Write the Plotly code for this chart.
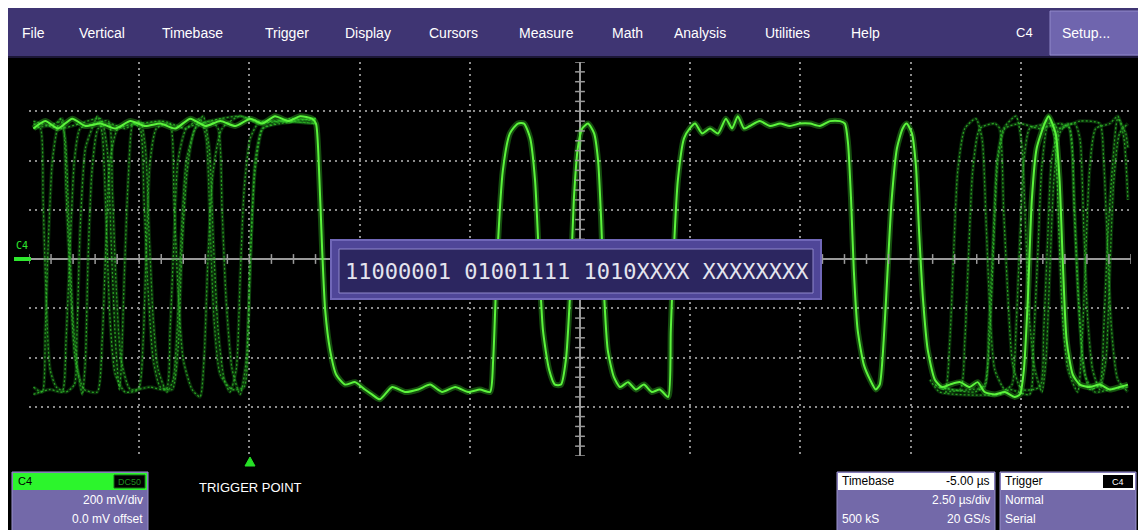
import numpy as np
import plotly.graph_objects as go

# ---------------- data (time in µs, voltage in V) ----------------
MAIN_T = [-12.40,-12.13,-11.84,-11.52,-11.22,-10.88,-10.54,-10.20,-9.86,-9.52,-9.18,-8.84,-8.50,-8.16,-7.82,-7.48,-7.21,-6.92,-6.62,-6.35,-6.08,-5.99,
          -5.92,-5.85,-5.78,-5.67,-5.53,-5.33,
          -5.10,-4.88,-4.72,-4.54,-4.26,-3.97,-3.67,-3.40,-3.13,-2.83,-2.54,-2.27,-2.04,
          -1.97,-1.88,-1.75,-1.59,-1.41,-1.27,
          -1.13,-1.02,-0.93,-0.84,-0.70,-0.57,-0.43,
          -0.32,-0.23,-0.14,-0.05,0.05,0.18,
          0.32,0.41,0.48,0.54,0.63,0.77,
          0.91,1.09,1.27,1.45,1.63,1.81,2.00,
          2.06,2.13,2.22,2.36,2.49,
          2.61,2.77,2.95,3.13,3.31,3.45,3.58,3.72,3.85,4.08,4.31,4.54,4.76,4.99,5.22,5.44,5.67,5.90,6.01,
          6.08,6.15,6.21,6.30,6.44,6.58,6.71,6.80,
          6.89,6.98,7.07,7.19,7.32,7.41,
          7.53,7.62,7.69,7.78,7.89,8.05,
          8.21,8.39,8.62,8.84,9.02,9.18,9.41,9.64,9.86,9.98,
          10.07,10.16,10.25,10.36,10.54,10.63,
          10.79,10.88,10.95,11.04,11.18,
          11.34,11.56,11.79,12.02,12.24,12.43]
MAIN_V = [0.53,0.56,0.53,0.57,0.54,0.55,0.53,0.56,0.54,0.55,0.53,0.57,0.54,0.56,0.54,0.57,0.55,0.58,0.56,0.58,0.57,0.55,
          0.36,0.04,-0.21,-0.37,-0.47,-0.51,
          -0.50,-0.53,-0.55,-0.57,-0.52,-0.54,-0.53,-0.51,-0.54,-0.52,-0.54,-0.53,-0.54,
          -0.41,0.00,0.36,0.51,0.55,0.55,
          0.49,0.32,0.00,-0.29,-0.45,-0.51,-0.51,
          -0.41,-0.16,0.24,0.45,0.53,0.55,
          0.51,0.40,0.16,-0.12,-0.37,-0.48,
          -0.52,-0.50,-0.53,-0.51,-0.54,-0.53,-0.56,
          -0.29,0.04,0.32,0.49,0.53,
          0.55,0.51,0.53,0.51,0.57,0.53,0.58,0.53,0.54,0.56,0.54,0.55,0.54,0.55,0.55,0.54,0.56,0.56,0.55,
          0.47,0.24,-0.04,-0.29,-0.43,-0.49,-0.53,-0.51,
          -0.33,-0.04,0.24,0.45,0.53,0.55,
          0.51,0.38,0.12,-0.16,-0.37,-0.49,
          -0.52,-0.51,-0.50,-0.52,-0.50,-0.54,-0.55,-0.54,-0.56,-0.55,
          -0.45,-0.16,0.24,0.45,0.55,0.58,
          0.51,0.32,0.00,-0.33,-0.47,
          -0.51,-0.52,-0.51,-0.53,-0.52,-0.51]

# persistence (older acquisitions) – left part of the screen
L1_T = [-12.40,-12.24,-12.18,-12.11,-12.02,-11.88,-11.66,-11.47,-11.41,-11.34,-11.22,-11.07,-10.95,-10.84,-10.75,-10.66,-10.54,-10.32,-10.02,-9.91,-9.84,-9.75,-9.61,-9.30,-8.96,-8.62,-8.48,-8.39,-8.30,-8.16,-7.89,-7.62,-7.53,-7.46,-7.37,-7.21,-6.92,-6.58,-5.99]
L1_V = [0.55,0.53,0.24,-0.16,-0.45,-0.52,-0.54,-0.51,-0.29,0.12,0.45,0.53,0.58,0.51,0.16,-0.25,-0.47,-0.54,-0.53,-0.33,0.04,0.40,0.53,0.55,0.53,0.57,0.49,0.12,-0.25,-0.47,-0.53,-0.52,-0.29,0.08,0.40,0.53,0.55,0.57,0.56]
L2_T = [-12.40,-12.20,-12.13,-12.06,-11.97,-11.86,-11.79,-11.68,-11.59,-11.50,-11.38,-11.29,-11.22,-11.16,-11.07,-10.93,-10.66,-10.32,-9.98,-9.86,-9.77,-9.68,-9.57,-9.37,-9.23,-9.14,-9.05,-8.93,-8.73,-8.55,-8.41,-8.32,-8.21,-8.07,-7.94,-7.80,-7.71,-7.62,-7.48,-7.30,-6.92,-5.99]
L2_V = [-0.52,-0.54,-0.29,0.08,0.40,0.53,0.57,0.49,0.12,-0.25,-0.47,-0.55,-0.41,0.00,0.36,0.53,0.55,0.53,0.56,0.45,0.08,-0.25,-0.45,-0.54,-0.49,-0.29,0.08,0.40,0.53,0.58,0.45,0.08,-0.29,-0.49,-0.54,-0.45,-0.08,0.28,0.49,0.55,0.56,0.55]
L3_T = [-12.40,-11.79,-11.34,-10.88,-10.73,-10.63,-10.54,-10.45,-10.41,-10.34,-10.25,-10.14,-9.98,-9.89,-9.80,-9.68,-9.52,-9.25,-9.12,-9.03,-8.91,-8.73,-8.39,-8.21,-8.12,-8.03,-7.89,-7.71,-7.57,-7.48,-7.37,-7.19,-6.80,-5.99]
L3_V = [0.56,0.53,0.55,0.57,0.45,0.04,-0.33,-0.53,-0.45,-0.08,0.32,0.55,0.53,0.24,-0.12,-0.41,-0.52,-0.53,-0.37,0.04,0.36,0.53,0.56,0.53,0.20,-0.16,-0.45,-0.55,-0.41,0.00,0.36,0.53,0.55,0.57]
L4_T = [-12.40,-12.02,-11.75,-11.66,-11.56,-11.47,-11.34,-11.00,-10.70,-10.61,-10.52,-10.41,-10.20,-9.75,-9.39,-9.30,-9.21,-9.12,-8.93,-8.62,-8.16,-7.71,-7.35,-5.99]
L4_V = [-0.55,-0.53,-0.54,-0.33,0.08,0.40,0.53,0.55,0.56,0.28,-0.12,-0.41,-0.53,-0.52,-0.53,-0.29,0.08,0.40,0.53,0.55,0.57,0.58,0.56,0.57]
L5_T = [-12.40,-11.90,-11.75,-11.66,-11.56,-11.45,-11.25,-10.95,-10.84,-10.75,-10.66,-10.48,-9.98,-9.52,-9.30,-9.21,-9.12,-9.00,-8.80,-8.62,-8.53,-8.44,-8.32,-8.12,-7.71,-7.26,-6.80,-5.99]
L5_V = [0.53,0.55,0.57,0.28,-0.12,-0.41,-0.53,-0.54,-0.33,0.08,0.40,0.53,0.55,0.56,0.55,0.24,-0.12,-0.41,-0.53,-0.56,-0.41,0.00,0.36,0.53,0.58,0.55,0.56,0.55]

# persistence – right part of the screen
R1_T = [8.05,8.28,8.39,8.48,8.57,8.73,8.98,9.12,9.21,9.30,9.41,9.64,9.80,9.89,9.98,10.07,10.20,10.54,10.63,10.77,10.86,10.95,11.07,11.29,11.38,11.47,11.56,11.70,12.02,12.20,12.34,12.43]
R1_V = [-0.51,-0.53,-0.33,0.04,0.36,0.53,0.57,0.49,0.16,-0.21,-0.45,-0.53,-0.51,-0.29,0.08,0.40,0.53,0.55,0.58,0.49,0.12,-0.25,-0.45,-0.54,-0.37,0.00,0.36,0.53,0.55,0.58,0.49,0.24]
R2_T = [8.16,8.62,8.73,8.82,8.91,9.07,9.41,9.52,9.61,9.71,9.82,10.02,10.43,10.52,10.61,10.70,10.88,11.22,11.34,11.43,11.52,11.63,11.79,11.93,12.02,12.11,12.24,12.43]
R2_V = [-0.52,-0.53,-0.33,0.04,0.36,0.53,0.55,0.53,0.20,-0.16,-0.43,-0.53,-0.52,-0.29,0.08,0.40,0.53,0.55,0.49,0.12,-0.25,-0.45,-0.53,-0.41,-0.04,0.32,0.51,0.55]
R3_T = [8.28,8.84,9.18,9.27,9.37,9.46,9.61,9.89,10.02,10.11,10.20,10.32,10.48,10.57,10.66,10.75,10.88,11.07,11.16,11.25,11.34,11.45,11.68,12.02,12.43]
R3_V = [-0.54,-0.53,-0.52,-0.29,0.08,0.40,0.53,0.58,0.47,0.12,-0.25,-0.45,-0.54,-0.41,-0.04,0.32,0.51,0.55,0.45,0.08,-0.25,-0.47,-0.54,-0.53,-0.52]
R4_T = [7.94,8.16,9.52,9.75,10.20,10.29,10.39,10.48,10.63,10.88,11.34,11.79,11.88,11.97,12.06,12.20,12.43]
R4_V = [-0.49,-0.54,-0.55,-0.53,-0.55,-0.33,0.04,0.38,0.55,0.53,0.56,0.55,0.40,0.04,-0.29,-0.49,-0.54]
R5_T = [8.16,8.96,9.18,9.30,9.39,9.48,9.64,9.98,10.43,10.88,11.11,11.20,11.29,11.41,11.56,11.79,11.88,11.97,12.09,12.20,12.38,12.43]
R5_V = [-0.52,-0.54,-0.51,-0.29,0.08,0.40,0.53,0.55,0.53,0.55,0.53,0.24,-0.12,-0.41,-0.53,-0.51,-0.29,0.08,0.40,0.57,0.51,0.45]

PERSIST = [(L1_T, L1_V), (L2_T, L2_V), (L3_T, L3_V), (L4_T, L4_V), (L5_T, L5_V),
           (R1_T, R1_V), (R2_T, R2_V), (R3_T, R3_V), (R4_T, R4_V), (R5_T, R5_V)]

# scope settings / texts
TIME_PER_DIV = 2.5      # µs/div
VOLT_PER_DIV = 0.2      # V/div
H_DIVS, V_DIVS = 10, 8
MENU_ITEMS = ["File", "Vertical", "Timebase", "Trigger", "Display", "Cursors",
              "Measure", "Math", "Analysis", "Utilities", "Help"]
DECODE_TEXT = "11000001 01001111 1010XXXX XXXXXXXX"
CH_NAME = "C4"
CH_COUPLING = "DC50"
CH_SCALE = "200 mV/div"
CH_OFFSET = "0.0 mV offset"
TB_DELAY = "-5.00 µs"
TB_SCALE = "2.50 µs/div"
TB_POINTS = "500 kS"
TB_RATE = "20 GS/s"
TRIG_MODE = "Normal"
TRIG_TYPE = "Serial"

# ---------------- layout geometry (pixels, figure coordinates) ----------------
OFF = 8                       # page margin of the browser (positions below are page pixels)
W, H = 1138, 522
PL, PT, PW, PH = 21, 54, 1102, 394


def fx(px):
    return (px - OFF - PL) / PW


def fy(py):
    return (PT + PH - (py - OFF)) / PH


FONT = "Liberation Sans, Arial, sans-serif"

fig = go.Figure()

# persistence traces
for t, v in PERSIST:
    fig.add_trace(go.Scatter(x=t, y=v, mode="lines", hoverinfo="skip", showlegend=False,
                             line=dict(color="rgba(30,140,30,0.30)", width=3.5,
                                       shape="spline", smoothing=0.6)))
    fig.add_trace(go.Scatter(x=t, y=v, mode="lines", hoverinfo="skip", showlegend=False,
                             line=dict(color="rgba(55,200,45,0.75)", width=1.3, dash="2px,2px",
                                       shape="spline", smoothing=0.6)))

# main (latest) trace with glow
fig.add_trace(go.Scatter(x=MAIN_T, y=MAIN_V, mode="lines", hoverinfo="skip", showlegend=False,
                         line=dict(color="rgba(70,255,50,0.30)", width=6,
                                   shape="spline", smoothing=0.6)))
fig.add_trace(go.Scatter(x=MAIN_T, y=MAIN_V, mode="lines", hoverinfo="skip", showlegend=False,
                         line=dict(color="#5cf43c", width=2.0, shape="spline", smoothing=0.6)))

# small ticks on the centre axes
half_t = H_DIVS / 2 * TIME_PER_DIV
half_v = V_DIVS / 2 * VOLT_PER_DIV
xt = np.arange(-half_t, half_t + 1e-9, TIME_PER_DIV / 5)
yt = np.arange(-half_v, half_v + 1e-9, VOLT_PER_DIV / 5)
fig.add_trace(go.Scatter(x=xt, y=np.zeros_like(xt), mode="markers", hoverinfo="skip", showlegend=False,
                         marker=dict(symbol="line-ns", size=7, line=dict(color="#9a9a9a", width=1.5))))
fig.add_trace(go.Scatter(x=np.zeros_like(yt), y=yt, mode="markers", hoverinfo="skip", showlegend=False,
                         marker=dict(symbol="line-ew", size=7, line=dict(color="#9a9a9a", width=1.5))))

xtv = [i * TIME_PER_DIV for i in range(-4, 5)]
ytv = [round(i * VOLT_PER_DIV, 3) for i in range(-3, 4)]

shapes = []
ann = []


def rect(x0, y0, x1, y1, fill, line=None, lw=0, layer="above"):
    shapes.append(dict(type="rect", xref="paper", yref="paper",
                       x0=fx(x0), x1=fx(x1), y0=fy(y1), y1=fy(y0),
                       fillcolor=fill, layer=layer,
                       line=dict(color=line or fill, width=lw)))


def text(x, y, s, size=13, color="white", xanchor="left", family=FONT, **kw):
    ann.append(dict(xref="paper", yref="paper", x=fx(x), y=fy(y), text=s,
                    showarrow=False, xanchor=xanchor, yanchor="middle",
                    font=dict(size=size, color=color, family=family), **kw))


# menu bar
rect(8, 8, W + OFF, 57, "#3f3573")
rect(8, 56, W + OFF, 58, "#1b1636")
menu_x = [20, 77, 160, 263, 343, 427, 517, 610, 672, 763, 849]
for mx, item in zip(menu_x, MENU_ITEMS):
    text(mx, 33, item, size=14)
text(1014, 33, CH_NAME, size=13)
rect(1050, 11, 1140, 55, "#6f65ae", "#9189c9", 1)
text(1060, 33, "Setup...", size=14)

# channel marker on the left
text(14, 246, CH_NAME, size=10, color="#2ee82e", family="DejaVu Sans Mono")
rect(14, 257, 31, 261, "#2ee82e")

# decode box
rect(331, 240, 821, 299, "#4f4698", "#7067b8", 2)
rect(339, 249, 813, 293, "#2c2660", "#9088cc", 1)
text(577, 271, DECODE_TEXT, size=22, color="#e4e4ee", xanchor="center",
     family="DejaVu Sans Mono, monospace")

# trigger point marker
shapes.append(dict(type="path", xref="paper", yref="paper",
                   path=f"M {fx(250)},{fy(457)} L {fx(255)},{fy(466)} L {fx(245)},{fy(466)} Z",
                   fillcolor="#26e026", line=dict(color="#26e026", width=1)))
text(197, 487, "TRIGGER POINT", size=13)

# channel descriptor box
rect(12, 472, 148, 531, "#7369a9", "#9a92cc", 1)
rect(13, 473, 147, 490, "#2cf52c")
rect(114, 475, 145, 488, "black", "#1a6a1a", 1)
text(16, 481, CH_NAME, size=11, color="black")
text(129.5, 481.5, CH_COUPLING, size=9, color="#1f8f1f", xanchor="center")
text(145, 500, CH_SCALE, size=12, xanchor="right")
text(145, 519, CH_OFFSET, size=12, xanchor="right")

# timebase descriptor box
rect(837, 472, 995, 531, "#7369a9", "#9a92cc", 1)
rect(838, 473, 994, 490, "white")
text(840, 481, "Timebase", size=12, color="black")
text(992, 481, TB_DELAY, size=12, color="black", xanchor="right")
text(992, 500, TB_SCALE, size=12, xanchor="right")
text(840, 519, TB_POINTS, size=12)
text(992, 519, TB_RATE, size=12, xanchor="right")

# trigger descriptor box
rect(1000, 472, 1136, 531, "#7369a9", "#9a92cc", 1)
rect(1001, 473, 1135, 490, "white")
rect(1103, 475, 1133, 488, "black")
text(1003, 481, "Trigger", size=12, color="black")
text(1118, 481.5, CH_NAME, size=9, color="white", xanchor="center")
text(1003, 500, TRIG_MODE, size=12)
text(1003, 519, TRIG_TYPE, size=12)

grid = dict(showgrid=True, gridcolor="#8c8c8c", gridwidth=1.5, griddash="1.5px,4.5px",
            showticklabels=False, ticks="", showline=False,
            zeroline=True, zerolinecolor="#9a9a9a", zerolinewidth=1.5, fixedrange=True)

fig.update_layout(
    width=W, height=H,
    margin=dict(l=PL, r=W - PL - PW, t=PT, b=H - PT - PH, pad=0),
    paper_bgcolor="black", plot_bgcolor="black",
    xaxis=dict(range=[-half_t, half_t], tickvals=xtv, **grid),
    yaxis=dict(range=[-half_v, half_v], tickvals=ytv, **grid),
    shapes=shapes, annotations=ann, showlegend=False,
)

fig.write_html("out.html")
